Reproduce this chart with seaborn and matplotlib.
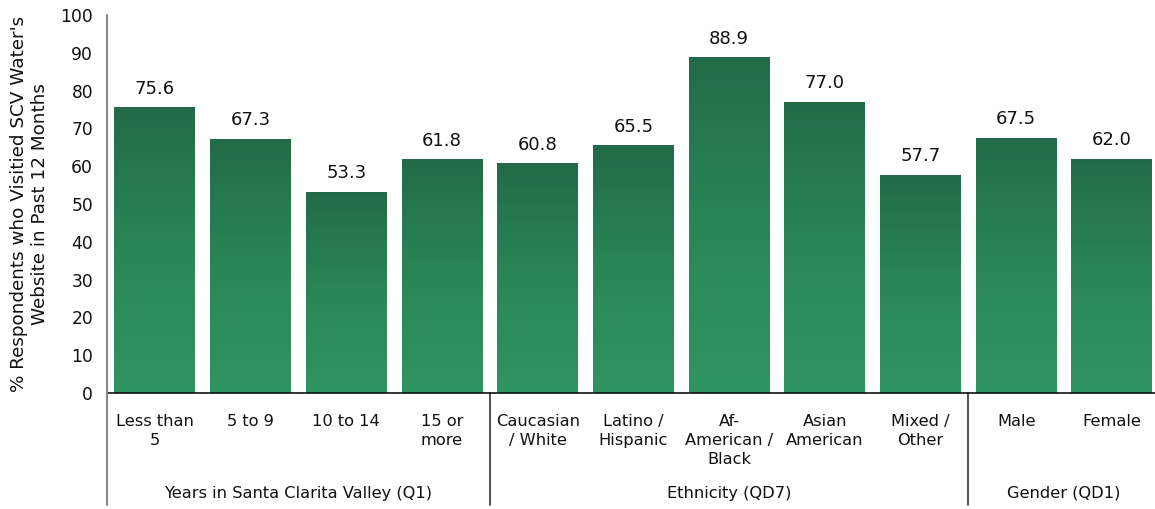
import numpy as np
import pandas as pd
import matplotlib
matplotlib.use("Agg")
import matplotlib.pyplot as plt
from matplotlib.colors import LinearSegmentedColormap
import seaborn as sns

categories = ["Less than\n5", "5 to 9", "10 to 14", "15 or\nmore",
              "Caucasian\n/ White", "Latino /\nHispanic", "Af-\nAmerican /\nBlack",
              "Asian\nAmerican", "Mixed /\nOther", "Male", "Female"]
values = [75.6, 67.3, 53.3, 61.8, 60.8, 65.5, 88.9, 77.0, 57.7, 67.5, 62.0]
groups = ["Years in Santa Clarita Valley (Q1)", "Ethnicity (QD7)", "Gender (QD1)"]
group_sizes = [4, 5, 2]
ylabel = "% Respondents who Visitied SCV Water's\nWebsite in Past 12 Months"

sns.set_theme(style="white")
plt.rcParams['font.family'] = ['DejaVu Sans']

df = pd.DataFrame({"cat": categories, "val": values})

fig = plt.figure(figsize=(11.55, 5.09), dpi=100)
ax = fig.add_axes([107/1155, 1 - 393/509, (1155 - 107)/1155, (393 - 15)/509])

sns.barplot(data=df, x="cat", y="val", ax=ax, color="#2a7d55", width=0.845,
            saturation=1)

cmap = LinearSegmentedColormap.from_list("g", ["#2F9464", "#2A8659", "#236B48"])
grad = np.linspace(0, 1, 256).reshape(-1, 1)
for p in ax.patches:
    x0, y0 = p.get_x(), p.get_y()
    w, h = p.get_width(), p.get_height()
    p.set_facecolor("none")
    p.set_edgecolor("none")
    im = ax.imshow(grad, cmap=cmap, origin="lower", aspect="auto",
                   extent=[x0, x0 + w, y0, y0 + h], zorder=2)
    im.set_clip_path(p)
    ax.text(x0 + w / 2, y0 + h + 2.5, f"{h:.1f}", ha="center", va="bottom",
            fontsize=13, color="#111111")

ax.set_xlim(-0.5, 10.45)
ax.set_ylim(0, 100)
ax.set_yticks(range(0, 101, 10))
ax.tick_params(axis="y", labelsize=12.3, length=0, pad=10, colors="#111111")
ax.set_xticks([])
ax.set_xlabel("")
ax.set_ylabel(ylabel, fontsize=13.2, labelpad=8, color="#111111")

for s in ["top", "right", "left"]:
    ax.spines[s].set_visible(False)
ax.spines["bottom"].set_color("#111111")
ax.spines["bottom"].set_linewidth(1.2)

# y axis line extended below
ax.plot([-0.5, -0.5], [100, -29.5], color="#888888", lw=1.5, clip_on=False,
        transform=ax.transData, zorder=5)

# category labels
for i, c in enumerate(categories):
    ax.text(i, -5.5, c, ha="center", va="top", fontsize=11.7,
            color="#111111", linespacing=1.35)

# group labels and separators
start = 0
for g, n in zip(groups, group_sizes):
    mid = start + (n - 1) / 2
    ax.text(mid, -26.5, g, ha="center", va="center", fontsize=11.7,
            color="#111111")
    start += n
    if start < len(categories):
        ax.plot([start - 0.5, start - 0.5], [0, -29.5], color="#333333",
                lw=1.2, clip_on=False)

fig.savefig("out.png", dpi=100)
